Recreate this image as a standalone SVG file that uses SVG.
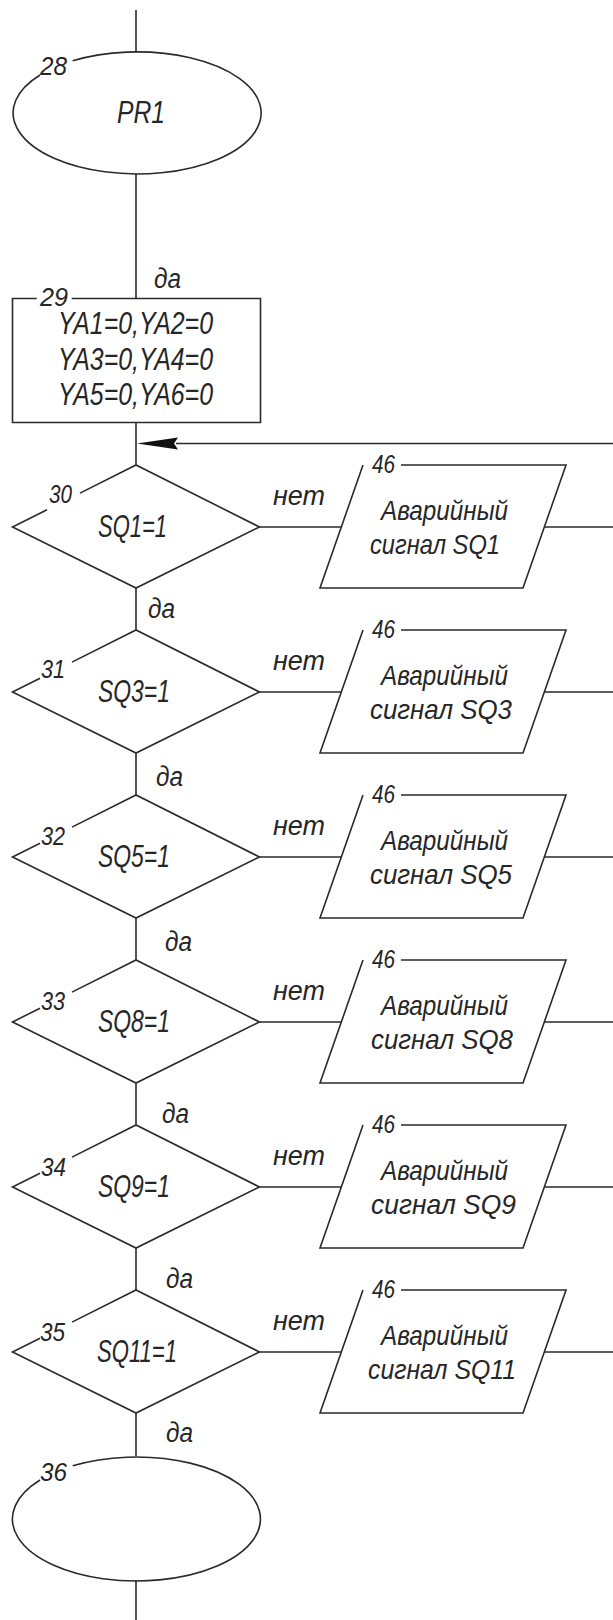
<svg xmlns="http://www.w3.org/2000/svg" width="613" height="1620" viewBox="0 0 613 1620">
<defs>
<style>
.s{fill:none;stroke:#2a2a2a;stroke-width:1.6}
.t{font-family:"Liberation Sans",Arial,sans-serif;font-style:italic;fill:#262626}
.big{font-size:32px}
.mid{font-size:28px}
.sm{font-size:27px}
.num{font-size:26px}
</style>
</defs>
<rect width="613" height="1620" fill="#fff"/>
<g id="connectors">
<path class="s" d="M136 10V52M136 174V298.5M136 422.5V465M136 588V630M136 753V795M136 918V960M136 1083V1125M136 1248V1290M136 1413V1456M136 1580V1620"/>
<path class="s" d="M613 443.5H176"/>
<polygon points="137,443.5 178,437.5 174,443.5 178,449.5" fill="#111"/>
<path class="s" d="M259.5 527H341.3M544.3 527H613M259.5 692H341.3M544.3 692H613M259.5 857H341.3M544.3 857H613M259.5 1022H341.3M544.3 1022H613M259.5 1187H341.3M544.3 1187H613M259.5 1352H341.3M544.3 1352H613"/>
<g class="t sm">
<text x="154" y="288" textLength="27" lengthAdjust="spacingAndGlyphs">да</text>
<text x="148" y="618" textLength="27" lengthAdjust="spacingAndGlyphs">да</text>
<text x="156" y="786" textLength="27" lengthAdjust="spacingAndGlyphs">да</text>
<text x="165" y="951" textLength="27" lengthAdjust="spacingAndGlyphs">да</text>
<text x="162" y="1123" textLength="27" lengthAdjust="spacingAndGlyphs">да</text>
<text x="166" y="1288" textLength="27" lengthAdjust="spacingAndGlyphs">да</text>
<text x="166" y="1442" textLength="27" lengthAdjust="spacingAndGlyphs">да</text>
<text x="273" y="505" textLength="52" lengthAdjust="spacingAndGlyphs">нет</text>
<text x="273" y="670" textLength="52" lengthAdjust="spacingAndGlyphs">нет</text>
<text x="273" y="835" textLength="52" lengthAdjust="spacingAndGlyphs">нет</text>
<text x="273" y="1000" textLength="52" lengthAdjust="spacingAndGlyphs">нет</text>
<text x="273" y="1165" textLength="52" lengthAdjust="spacingAndGlyphs">нет</text>
<text x="273" y="1330" textLength="52" lengthAdjust="spacingAndGlyphs">нет</text>
</g>
</g>
<g id="n28">
<path class="s" d="M72.7 60.8A124 61 0 1 1 40 75"/>
<text class="t num" x="40" y="75" textLength="27" lengthAdjust="spacingAndGlyphs">28</text>
<text class="t big" x="117" y="123" textLength="48" lengthAdjust="spacingAndGlyphs">PR1</text>
</g>
<g id="n29">
<path class="s" d="M36.7 298.5H12.5V422.5H260.5V298.5H71.7"/>
<text class="t num" x="40" y="306" textLength="28" lengthAdjust="spacingAndGlyphs">29</text>
<g class="t big">
<text x="58" y="334" textLength="155" lengthAdjust="spacingAndGlyphs">YA1=0,YA2=0</text>
<text x="58" y="370" textLength="155" lengthAdjust="spacingAndGlyphs">YA3=0,YA4=0</text>
<text x="58" y="405" textLength="155" lengthAdjust="spacingAndGlyphs">YA5=0,YA6=0</text>
</g>
</g>
<g id="n30">
<path class="s" d="M80 493.1L136 465L259.5 527L136 588L12.5 527L47 509.7"/>
<text class="t num" x="49" y="503" textLength="23" lengthAdjust="spacingAndGlyphs">30</text>
<text class="t big" x="98" y="537" textLength="69" lengthAdjust="spacingAndGlyphs">SQ1=1</text>
</g>
<g id="n31">
<path class="s" d="M72 662.1L136 630L259.5 692L136 753L12.5 692L40 678.2"/>
<text class="t num" x="41" y="678" textLength="24" lengthAdjust="spacingAndGlyphs">31</text>
<text class="t big" x="98" y="702" textLength="72" lengthAdjust="spacingAndGlyphs">SQ3=1</text>
</g>
<g id="n32">
<path class="s" d="M72 827.1L136 795L259.5 857L136 918L12.5 857L40 843.2"/>
<text class="t num" x="41" y="845" textLength="24" lengthAdjust="spacingAndGlyphs">32</text>
<text class="t big" x="98" y="867" textLength="72" lengthAdjust="spacingAndGlyphs">SQ5=1</text>
</g>
<g id="n33">
<path class="s" d="M72 992.1L136 960L259.5 1022L136 1083L12.5 1022L40 1008.2"/>
<text class="t num" x="41" y="1010" textLength="24" lengthAdjust="spacingAndGlyphs">33</text>
<text class="t big" x="98" y="1032" textLength="72" lengthAdjust="spacingAndGlyphs">SQ8=1</text>
</g>
<g id="n34">
<path class="s" d="M72 1157.1L136 1125L259.5 1187L136 1248L12.5 1187L40 1173.2"/>
<text class="t num" x="41" y="1176" textLength="25" lengthAdjust="spacingAndGlyphs">34</text>
<text class="t big" x="98" y="1197" textLength="72" lengthAdjust="spacingAndGlyphs">SQ9=1</text>
</g>
<g id="n35">
<path class="s" d="M72 1322.1L136 1290L259.5 1352L136 1413L12.5 1352L40 1338.2"/>
<text class="t num" x="40" y="1341" textLength="25" lengthAdjust="spacingAndGlyphs">35</text>
<text class="t big" x="97" y="1362" textLength="80" lengthAdjust="spacingAndGlyphs">SQ11=1</text>
</g>
<g id="n46a">
<path class="s" d="M401 465H566L523 588H320L363 465"/>
<text class="t num" x="372" y="473" textLength="23" lengthAdjust="spacingAndGlyphs">46</text>
<text class="t mid" x="381" y="520" textLength="127" lengthAdjust="spacingAndGlyphs">Аварийный</text>
<text class="t mid" x="370" y="554" textLength="130" lengthAdjust="spacingAndGlyphs">сигнал SQ1</text>
</g>
<g id="n46b">
<path class="s" d="M401 630H566L523 753H320L363 630"/>
<text class="t num" x="372" y="638" textLength="23" lengthAdjust="spacingAndGlyphs">46</text>
<text class="t mid" x="381" y="685" textLength="127" lengthAdjust="spacingAndGlyphs">Аварийный</text>
<text class="t mid" x="370" y="719" textLength="142" lengthAdjust="spacingAndGlyphs">сигнал SQ3</text>
</g>
<g id="n46c">
<path class="s" d="M401 795H566L523 918H320L363 795"/>
<text class="t num" x="372" y="803" textLength="23" lengthAdjust="spacingAndGlyphs">46</text>
<text class="t mid" x="381" y="850" textLength="127" lengthAdjust="spacingAndGlyphs">Аварийный</text>
<text class="t mid" x="370" y="884" textLength="142" lengthAdjust="spacingAndGlyphs">сигнал SQ5</text>
</g>
<g id="n46d">
<path class="s" d="M401 960H566L523 1083H320L363 960"/>
<text class="t num" x="372" y="968" textLength="23" lengthAdjust="spacingAndGlyphs">46</text>
<text class="t mid" x="381" y="1015" textLength="127" lengthAdjust="spacingAndGlyphs">Аварийный</text>
<text class="t mid" x="371" y="1049" textLength="142" lengthAdjust="spacingAndGlyphs">сигнал SQ8</text>
</g>
<g id="n46e">
<path class="s" d="M401 1125H566L523 1248H320L363 1125"/>
<text class="t num" x="372" y="1133" textLength="23" lengthAdjust="spacingAndGlyphs">46</text>
<text class="t mid" x="381" y="1180" textLength="127" lengthAdjust="spacingAndGlyphs">Аварийный</text>
<text class="t mid" x="371" y="1214" textLength="145" lengthAdjust="spacingAndGlyphs">сигнал SQ9</text>
</g>
<g id="n46f">
<path class="s" d="M401 1290H566L523 1413H320L363 1290"/>
<text class="t num" x="372" y="1298" textLength="23" lengthAdjust="spacingAndGlyphs">46</text>
<text class="t mid" x="381" y="1345" textLength="127" lengthAdjust="spacingAndGlyphs">Аварийный</text>
<text class="t mid" x="368" y="1379" textLength="148" lengthAdjust="spacingAndGlyphs">сигнал SQ11</text>
</g>
<g id="n36">
<path class="s" d="M72.7 1465.8A124 62 0 1 1 40 1480"/>
<text class="t num" x="40" y="1481" textLength="27" lengthAdjust="spacingAndGlyphs">36</text>
</g>
</svg>
